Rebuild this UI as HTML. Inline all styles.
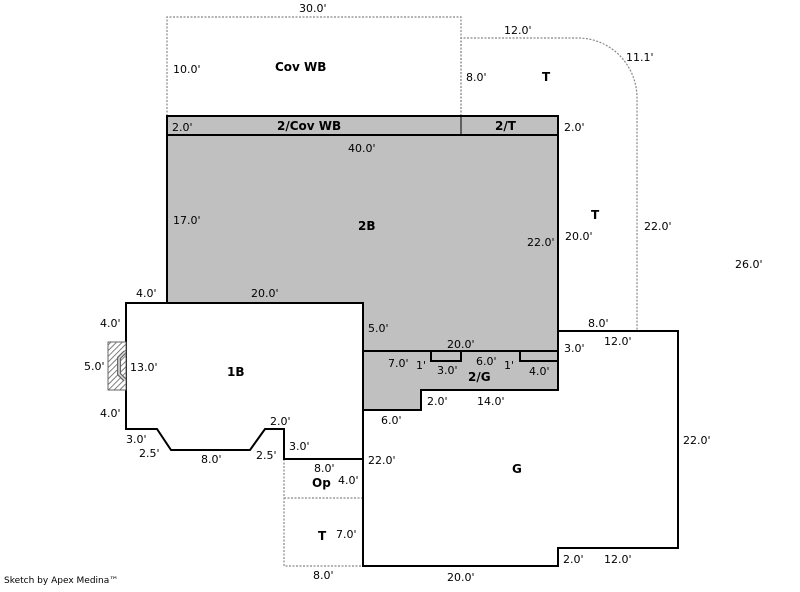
<!DOCTYPE html>
<html><head><meta charset="utf-8"><style>
html,body{margin:0;padding:0;background:#fff;}
svg text{font-family:"DejaVu Sans","Liberation Sans",sans-serif;font-size:11px;fill:#000;}
svg text.b{font-weight:bold;font-size:12px;}
</style></head><body>
<svg width="800" height="587" viewBox="0 0 800 587" xmlns="http://www.w3.org/2000/svg">
<defs>
<pattern id="h" width="4" height="4" patternUnits="userSpaceOnUse" patternTransform="rotate(45)">
<rect width="4" height="4" fill="#fff"/><line x1="0" y1="0" x2="0" y2="4" stroke="#555" stroke-width="1.5"/>
</pattern>
</defs>
<!-- dotted areas -->
<g fill="none" stroke="#888" stroke-width="1.2" stroke-dasharray="2,1.5">
<polyline points="167,116 167,17 461,17 461,116"/>
<path d="M461,116 L461,38 L578,38 A59,60 0 0 1 637,98 L637,331"/>
<polyline points="284,459 284,566 363,566"/>
<line x1="284" y1="498" x2="363" y2="498"/>
</g>
<!-- gray -->
<path d="M167,116 L558,116 L558,390 L421,390 L421,410 L363,410 L363,303 L167,303 Z" fill="#c0c0c0" stroke="#000" stroke-width="2"/>
<g stroke="#000" stroke-width="2" fill="none">
<line x1="167" y1="135" x2="558" y2="135"/>
<line x1="461" y1="116" x2="461" y2="135" stroke-width="1"/>
<line x1="363" y1="351" x2="558" y2="351"/>
<rect x="431" y="351" width="30" height="10"/>
<rect x="520" y="351" width="38" height="10"/>
</g>
<!-- 1B -->
<path d="M126,303 L363,303 L363,459 L284,459 L284,429 L265,429 L250,450 L171,450 L157,429 L126,429 Z" fill="#fff" stroke="#000" stroke-width="2"/>
<!-- G -->
<path d="M363,410 L363,566 L558,566 L558,548 L678,548 L678,331 L558,331" fill="none" stroke="#000" stroke-width="2"/>
<!-- bay -->
<rect x="108" y="342" width="18" height="48" fill="url(#h)" stroke="#666" stroke-width="1"/>
<path d="M125,352 L119,358 L119,374 L125,380" fill="none" stroke="#666" stroke-width="4"/>
<path d="M125,352 L119,358 L119,374 L125,380" fill="none" stroke="#ddd" stroke-width="1.5"/>
<!-- labels -->
<text x="299" y="12">30.0'</text>
<text x="504" y="34">12.0'</text>
<text x="626" y="61">11.1'</text>
<text x="173" y="73">10.0'</text>
<text class="b" x="275" y="71">Cov WB</text>
<text x="466" y="81">8.0'</text>
<text class="b" x="542" y="81">T</text>
<text x="172" y="131">2.0'</text>
<text class="b" x="277" y="130">2/Cov WB</text>
<text class="b" x="495" y="130">2/T</text>
<text x="564" y="131">2.0'</text>
<text x="348" y="152">40.0'</text>
<text x="173" y="224">17.0'</text>
<text class="b" x="358" y="230">2B</text>
<text class="b" x="591" y="219">T</text>
<text x="644" y="230">22.0'</text>
<text x="527" y="246">22.0'</text>
<text x="565" y="240">20.0'</text>
<text x="735" y="268">26.0'</text>
<text x="136" y="297">4.0'</text>
<text x="251" y="297">20.0'</text>
<text x="100" y="327">4.0'</text>
<text x="368" y="332">5.0'</text>
<text x="588" y="327">8.0'</text>
<text x="604" y="345">12.0'</text>
<text x="447" y="348">20.0'</text>
<text x="564" y="352">3.0'</text>
<text x="84" y="370">5.0'</text>
<text x="130" y="371">13.0'</text>
<text class="b" x="227" y="376">1B</text>
<text x="388" y="367">7.0'</text>
<text x="416" y="369">1'</text>
<text x="437" y="374">3.0'</text>
<text x="476" y="365">6.0'</text>
<text x="504" y="369">1'</text>
<text x="529" y="375">4.0'</text>
<text class="b" x="468" y="381">2/G</text>
<text x="100" y="417">4.0'</text>
<text x="427" y="405">2.0'</text>
<text x="477" y="405">14.0'</text>
<text x="381" y="424">6.0'</text>
<text x="270" y="425">2.0'</text>
<text x="126" y="443">3.0'</text>
<text x="289" y="450">3.0'</text>
<text x="139" y="457">2.5'</text>
<text x="201" y="463">8.0'</text>
<text x="256" y="459">2.5'</text>
<text x="683" y="444">22.0'</text>
<text x="368" y="464">22.0'</text>
<text x="314" y="472">8.0'</text>
<text class="b" x="512" y="473">G</text>
<text class="b" x="312" y="487">Op</text>
<text x="338" y="484">4.0'</text>
<text class="b" x="318" y="540">T</text>
<text x="336" y="538">7.0'</text>
<text x="563" y="563">2.0'</text>
<text x="604" y="563">12.0'</text>
<text x="313" y="579">8.0'</text>
<text x="447" y="581">20.0'</text>
<text x="4" y="583" style="font-size:9px">Sketch by Apex Medina™</text>
</svg>
</body></html>
